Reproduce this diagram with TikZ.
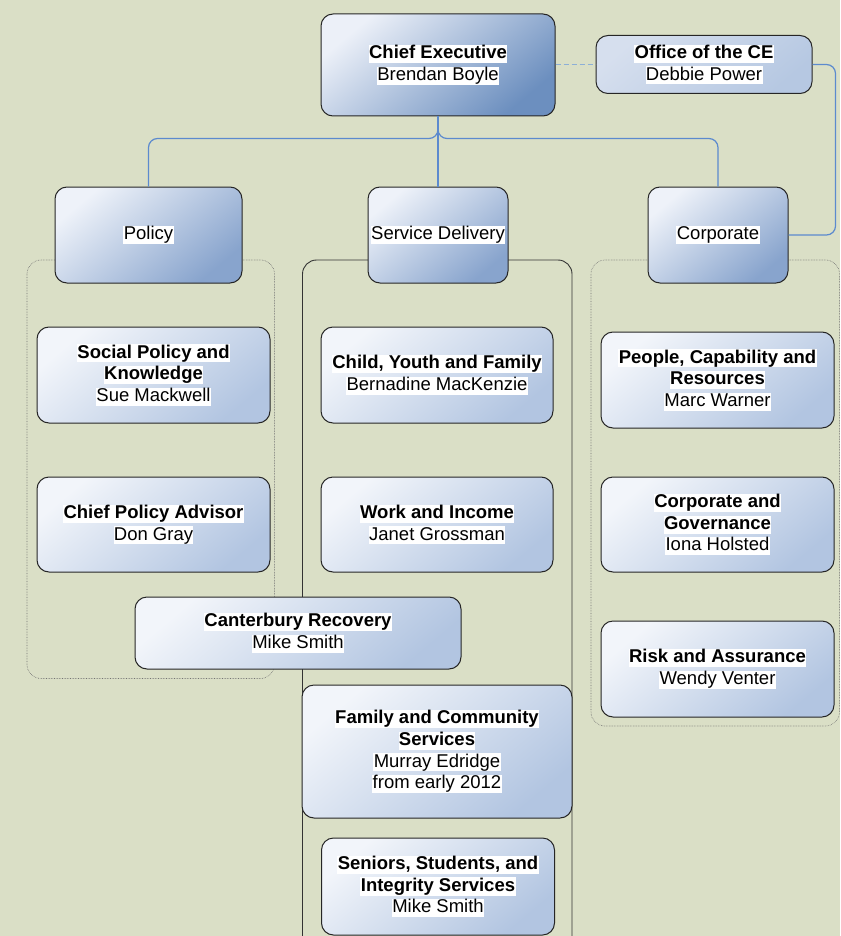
\documentclass[tikz,border=0pt]{standalone}
\usepackage{fontspec}
\setmainfont{Liberation Sans}
\usetikzlibrary{calc}
\definecolor{bgc}{RGB}{218,223,198}
\definecolor{conn}{RGB}{92,138,206}
\definecolor{dashc}{RGB}{140,175,215}
\definecolor{lA}{RGB}{242,245,250}
\definecolor{lB}{RGB}{198,211,232}
\definecolor{lC}{RGB}{178,197,225}
\definecolor{mA}{RGB}{238,242,249}
\definecolor{mB}{RGB}{160,182,214}
\definecolor{mC}{RGB}{136,164,205}
\definecolor{cA}{RGB}{236,240,248}
\definecolor{cB}{RGB}{128,158,200}
\definecolor{cC}{RGB}{108,143,191}
\definecolor{oA}{RGB}{214,223,238}
\definecolor{oC}{RGB}{182,200,226}
\newcommand\wb[1]{{\setlength\fboxsep{0.4pt}\colorbox{white}{\rule[-0.21em]{0pt}{0.93em}#1}}}
\tikzset{
  basebox/.style={rounded corners=12pt, draw=black!85, line width=1pt, align=center,
    inner sep=0pt, font=\fontsize{18.5}{21.7}\selectfont, text=black},
  lowbox/.style={basebox, top color=lA, middle color=lB, bottom color=lC, shading angle=40},
  midbox/.style={basebox, top color=mA, middle color=mB, bottom color=mC, shading angle=40},
  topbox/.style={basebox, top color=cA, middle color=cB, bottom color=cC, shading angle=40},
  offbox/.style={basebox, top color=oA, bottom color=oC, shading angle=40},
  link/.style={draw=conn, line width=1.2pt, rounded corners=9pt},
  dotgroup/.style={draw=black!55, line width=0.6pt, densely dotted, rounded corners=14pt},
  solidgroup/.style={draw=black!80, line width=0.9pt, rounded corners=14pt},
}
\begin{document}
\begin{tikzpicture}[x=1pt,y=-1pt]
\useasboundingbox (0,0) rectangle (840,936);
\fill[bgc] (0,0) rectangle (840,936);
\clip (0,0) rectangle (840,936);

% groups
\draw[dotgroup] (27,260) rectangle (274.5,678.5);
\draw[solidgroup] (302.5,260) rectangle (572,980);
\draw[dotgroup] (591,260) rectangle (839.5,726);

% top nodes
\node[topbox, minimum width=234pt, minimum height=102pt] (ce) at (438,65)
  {\wb{\bfseries Chief Executive}\\\wb{Brendan Boyle}};
\node[offbox, minimum width=216pt, minimum height=58pt] (off) at (704,64.5)
  {\wb{\bfseries Office of the CE}\\\wb{Debbie Power}};

\node[midbox, minimum width=187pt, minimum height=96pt] (pol) at (148.5,235) {\wb{Policy}};
\node[midbox, minimum width=140pt, minimum height=96pt] (sd) at (438,235) {\wb{Service Delivery}};
\node[midbox, minimum width=140pt, minimum height=96pt] (corp) at (718,235) {\wb{Corporate}};

% connectors
\coordinate (split) at ($(ce.south)+(0,22)$);
\draw[link] (ce.south) -- (split) -| (pol.north);
\draw[link] (ce.south) -- (split) -| (corp.north);
\draw[link] (ce.south) -- (sd.north);
\draw[draw=dashc, line width=1pt, dash pattern=on 5pt off 3pt] (ce.east |- off.west) -- (off.west);
\coordinate (rt) at (835.5,120);
\draw[link] (off.east) -| (rt) |- (corp.east);

% policy column
\node[lowbox, minimum width=233pt, minimum height=96pt] (spk) at (153.5,375)
  {\wb{\bfseries Social Policy and}\\\wb{\bfseries Knowledge}\\\wb{Sue Mackwell}};
\node[lowbox, minimum width=233pt, minimum height=95pt] (cpa) at (153.5,524.5)
  {\wb{\bfseries Chief Policy Advisor}\\\wb{Don Gray}};

% service delivery column
\node[lowbox, minimum width=232pt, minimum height=96pt] (cyf) at (437,375)
  {\wb{\bfseries Child, Youth and Family}\\\wb{Bernadine MacKenzie}};
\node[lowbox, minimum width=232pt, minimum height=95pt] (wi) at (437,524.5)
  {\wb{\bfseries Work and Income}\\\wb{Janet Grossman}};
\node[lowbox, minimum width=326pt, minimum height=72pt] (cr) at (298,633)
  {\wb{\bfseries Canterbury Recovery}\\\wb{Mike Smith}};
\node[lowbox, minimum width=270pt, minimum height=133pt] (fcs) at (437,751.5)
  {\wb{\bfseries Family and Community}\\\wb{\bfseries Services}\\\wb{Murray Edridge}\\\wb{from early 2012}};
\node[lowbox, minimum width=233pt, minimum height=97pt] (ssi) at (438,886.5)
  {\wb{\bfseries Seniors, Students, and}\\\wb{\bfseries Integrity Services}\\\wb{Mike Smith}};

% corporate column
\node[lowbox, minimum width=233pt, minimum height=96pt] (pcr) at (717.5,380)
  {\wb{\bfseries People, Capability and}\\\wb{\bfseries Resources}\\\wb{Marc Warner}};
\node[lowbox, minimum width=233pt, minimum height=95pt] (cg) at (717.5,524.5)
  {\wb{\bfseries Corporate and}\\\wb{\bfseries Governance}\\\wb{Iona Holsted}};
\node[lowbox, minimum width=233pt, minimum height=96pt] (ra) at (717.5,669)
  {\wb{\bfseries Risk and Assurance}\\\wb{Wendy Venter}};
\end{tikzpicture}
\end{document}
